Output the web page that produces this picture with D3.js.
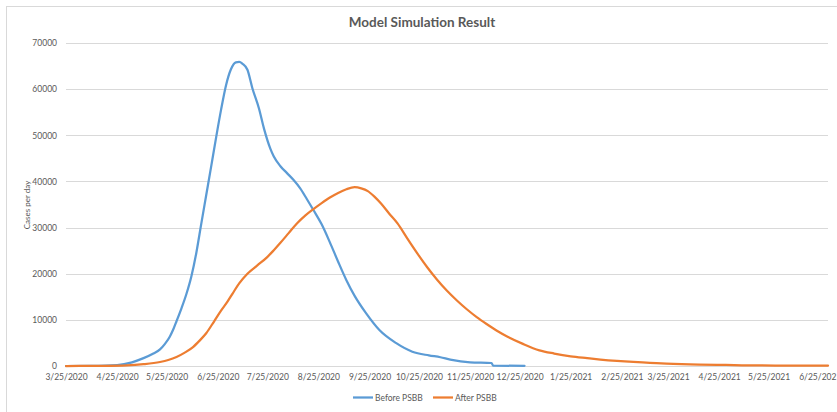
<!DOCTYPE html>
<html>
<head>
<meta charset="utf-8">
<script src="https://cdn.jsdelivr.net/npm/d3@7"></script>
<style>
  html, body { margin: 0; padding: 0; background: #fff; }
  svg { display: block; }
  text { font-family: Lato, "Open Sans", "Liberation Sans", sans-serif; fill: #595959; }
</style>
</head>
<body>
<svg id="chart" width="837" height="412"></svg>
<script>
// ---- data ----
const chartTitle = "Model Simulation Result";
const yAxisTitle = "Cases per day";
const seriesNames = ["Before PSBB", "After PSBB"];
const seriesColors = ["#5b9bd5", "#ed7d31"];

const xTickLabels = ["3/25/2020","4/25/2020","5/25/2020","6/25/2020","7/25/2020","8/25/2020",
  "9/25/2020","10/25/2020","11/25/2020","12/25/2020","1/25/2021","2/25/2021","3/25/2021",
  "4/25/2021","5/25/2021","6/25/2021"];
const yTickValues = [0, 10000, 20000, 30000, 40000, 50000, 60000, 70000];
const xDomain = ["3/25/2020", "6/30/2021"];

const beforeDates = ["3/25/2020","4/9/2020","4/25/2020","5/4/2020","5/11/2020","5/17/2020","5/21/2020",
  "5/24/2020","5/27/2020","5/29/2020","5/31/2020","6/3/2020","6/6/2020","6/9/2020","6/12/2020",
  "6/15/2020","6/18/2020","6/21/2020","6/24/2020","6/27/2020","6/30/2020","7/3/2020","7/6/2020",
  "7/8/2020","7/10/2020","7/13/2020","7/16/2020","7/20/2020","7/23/2020","7/27/2020","7/29/2020",
  "8/2/2020","8/6/2020","8/10/2020","8/14/2020","8/18/2020","8/22/2020","8/27/2020","9/1/2020",
  "9/6/2020","9/11/2020","9/16/2020","9/23/2020","10/1/2020","10/11/2020","10/21/2020",
  "10/31/2020","11/7/2020","11/13/2020","11/25/2020","12/8/2020","12/9/2020","12/28/2020"];
const beforeValues = [0,30,200,800,1700,2700,3600,
  4800,6400,7900,9700,12500,15600,19400,24500,
  30800,37000,43200,49500,55500,60800,64300,65800,
  65900,65500,64200,60200,55800,51500,47000,45400,
  43300,41800,40300,38500,36200,33800,30700,26800,
  22600,18600,15200,11400,7800,5000,3100,
  2300,1900,1400,800,650,80,30];

const afterDates = ["3/25/2020","4/14/2020","5/1/2020","5/11/2020","5/21/2020","5/26/2020","5/31/2020",
  "6/5/2020","6/10/2020","6/14/2020","6/18/2020","6/23/2020","6/27/2020","7/1/2020","7/4/2020",
  "7/8/2020","7/13/2020","7/19/2020","7/25/2020","7/29/2020","8/2/2020","8/7/2020","8/12/2020",
  "8/17/2020","8/22/2020","8/27/2020","9/1/2020","9/6/2020","9/11/2020","9/16/2020","9/20/2020",
  "9/24/2020","9/28/2020","10/2/2020","10/7/2020","10/12/2020","10/18/2020","10/24/2020",
  "10/30/2020","11/5/2020","11/11/2020","11/17/2020","11/23/2020","11/29/2020","12/5/2020",
  "12/11/2020","12/18/2020","12/27/2020","1/6/2021","1/15/2021","1/25/2021","2/4/2021",
  "2/12/2021","2/22/2021","3/4/2021","3/14/2021","3/24/2021","4/13/2021","4/29/2021",
  "5/12/2021","5/29/2021","6/30/2021"];
const afterValues = [0,40,150,400,870,1300,1950,
  2900,4100,5500,7100,9800,12000,14000,15700,
  17900,20000,21800,23600,25100,26700,28800,30900,
  32600,34000,35300,36500,37500,38300,38750,38500,
  37900,36700,35200,33000,30900,27600,24400,
  21400,18700,16300,14200,12300,10600,9100,
  7700,6300,4800,3400,2700,2100,1700,
  1400,1100,870,700,520,300,220,
  130,100,80];

// ---- drawing ----
const W = 837, H = 412;
const margin = { left: 66, right: W - 828, top: 43, bottom: H - 366 };
const parse = d3.timeParse("%m/%d/%Y");
const svg = d3.select("#chart");

// outer chart border
svg.append("rect").attr("x", 6.5).attr("y", 6.5).attr("width", 840).attr("height", 420)
  .attr("fill", "#fff").attr("stroke", "#d9d9d9").attr("stroke-width", 1);

const x = d3.scaleTime().domain(xDomain.map(parse)).range([margin.left, W - margin.right]);
const y = d3.scaleLinear().domain([0, 70000]).range([H - margin.bottom, margin.top]);

// gridlines
svg.append("g").selectAll("line").data(yTickValues.filter(v => v > 0)).join("line")
  .attr("x1", x.range()[0]).attr("x2", x.range()[1])
  .attr("y1", d => Math.round(y(d)) + 0.5).attr("y2", d => Math.round(y(d)) + 0.5)
  .attr("stroke", "#d9d9d9").attr("stroke-width", 1);

// y axis labels
const yAxis = d3.axisLeft(y).tickValues(yTickValues).tickSize(0).tickPadding(0)
  .tickFormat(d3.format("d"));
const gy = svg.append("g").attr("transform", `translate(${margin.left - 9},0)`).call(yAxis);
gy.select(".domain").remove();
gy.selectAll("text").style("font-size", "8.5px").attr("fill", "#595959")
  .style("font-family", "Lato, 'Open Sans', sans-serif");

// x axis
const xAxis = d3.axisBottom(x).tickValues(xTickLabels.map(parse)).tickSize(0).tickPadding(7)
  .tickFormat(d3.timeFormat("%-m/%-d/%Y"));
const gx = svg.append("g").attr("transform", `translate(0,${Math.round(y(0)) + 0.5})`).call(xAxis);
gx.select(".domain").attr("stroke", "#d9d9d9").attr("d", `M${x.range()[0]},0H${x.range()[1]}`);
gx.selectAll("text").style("font-size", "8.5px").attr("fill", "#595959")
  .style("font-family", "Lato, 'Open Sans', sans-serif");

// lines
const line = d3.line().x(d => x(d[0])).y(d => y(d[1])).curve(d3.curveMonotoneX);
const beforeData = beforeDates.map((d, i) => [parse(d), beforeValues[i]]);
const afterData = afterDates.map((d, i) => [parse(d), afterValues[i]]);
[beforeData, afterData].forEach((data, i) => {
  svg.append("path").datum(data).attr("d", line).attr("fill", "none")
    .attr("stroke", seriesColors[i]).attr("stroke-width", 2.25)
    .attr("stroke-linejoin", "round").attr("stroke-linecap", "round");
});

// title
svg.append("text").attr("x", 422).attr("y", 27).attr("text-anchor", "middle")
  .style("font-size", "13.5px").style("font-weight", "bold").attr("fill", "#595959")
  .text(chartTitle);

// y axis title
svg.append("text").attr("transform", "translate(30,205) rotate(-90)")
  .attr("text-anchor", "middle").style("font-size", "8px").attr("fill", "#595959")
  .text(yAxisTitle);

// legend
const legendItems = [
  { x: 353, name: seriesNames[0], color: seriesColors[0] },
  { x: 433, name: seriesNames[1], color: seriesColors[1] }
];
const lg = svg.append("g");
legendItems.forEach(it => {
  lg.append("line").attr("x1", it.x).attr("x2", it.x + 20).attr("y1", 397.5).attr("y2", 397.5)
    .attr("stroke", it.color).attr("stroke-width", 2.25);
  lg.append("text").attr("x", it.x + 22).attr("y", 400.5).style("font-size", "8.5px")
    .attr("fill", "#595959").text(it.name);
});
</script>
</body>
</html>
